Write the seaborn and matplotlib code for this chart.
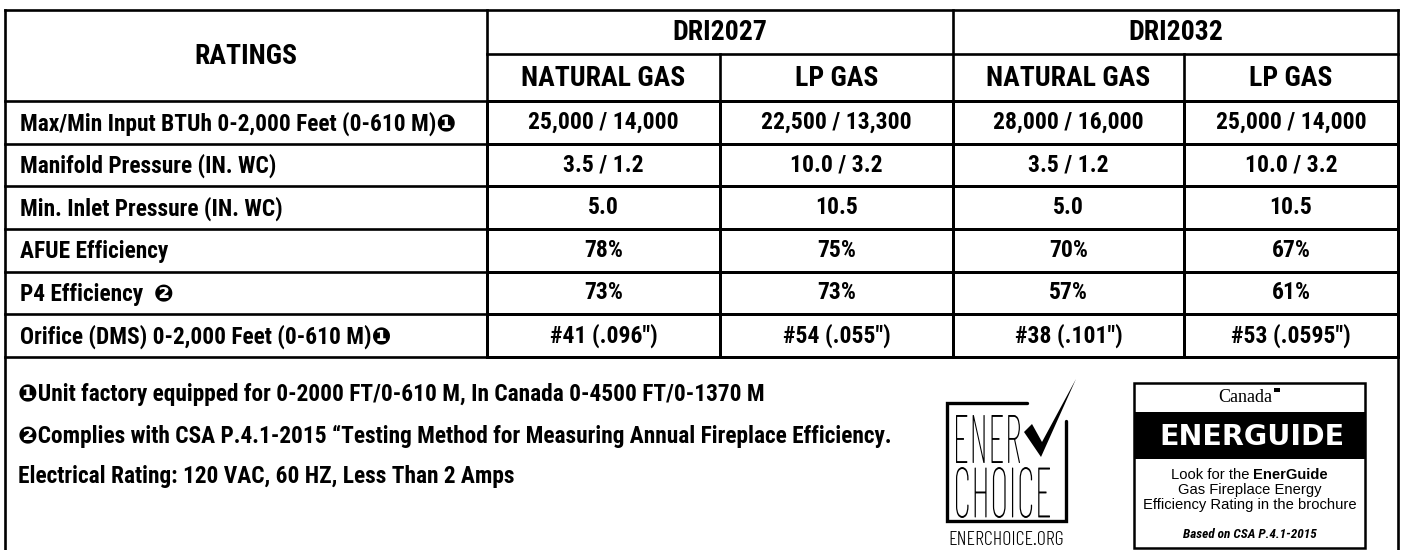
import numpy as np
import matplotlib
matplotlib.use("Agg")
import matplotlib.pyplot as plt
from matplotlib import font_manager
from matplotlib.colors import ListedColormap
from matplotlib.textpath import TextPath
from matplotlib.patches import PathPatch, Rectangle, Polygon
from matplotlib.font_manager import FontProperties
from matplotlib.transforms import Affine2D
import seaborn as sns

# ---------------- data ----------------
row_labels = [
    "Max/Min Input BTUh 0-2,000 Feet (0-610 M)\u2776",
    "Manifold Pressure (IN. WC)",
    "Min. Inlet Pressure (IN. WC)",
    "AFUE Efficiency",
    "P4 Efficiency  \u2777",
    "Orifice (DMS) 0-2,000 Feet (0-610 M)\u2776",
]
models = ["DRI2027", "DRI2032"]
fuels = ["NATURAL GAS", "LP GAS"]
header_title = "RATINGS"
dri2027_ng = ["25,000 / 14,000", "3.5 / 1.2", "5.0", "78%", "73%", '#41 (.096")']
dri2027_lp = ["22,500 / 13,300", "10.0 / 3.2", "10.5", "75%", "73%", '#54 (.055")']
dri2032_ng = ["28,000 / 16,000", "3.5 / 1.2", "5.0", "70%", "57%", '#38 (.101")']
dri2032_lp = ["25,000 / 14,000", "10.0 / 3.2", "10.5", "67%", "61%", '#53 (.0595")']
footnotes = [
    "\u2776Unit factory equipped for 0-2000 FT/0-610 M, In Canada 0-4500 FT/0-1370 M",
    "\u2777Complies with CSA P.4.1-2015 \u201cTesting Method for Measuring Annual Fireplace Efficiency.",
    "Electrical Rating: 120 VAC, 60 HZ, Less Than 2 Amps",
]
enerchoice_words = ["ENER", "CHOICE", "ENERCHOICE.ORG"]
energuide_title = "ENERGUIDE"
energuide_lines = ["Look for the ", "EnerGuide", "Gas Fireplace Energy",
                   "Efficiency Rating in the brochure", "Based on CSA P.4.1-2015"]

# ---------------- style ----------------
sns.set_theme(style="white")
installed = {f.name for f in font_manager.fontManager.ttflist}

def pick(cands, default="DejaVu Sans"):
    for c in cands:
        if c in installed:
            return c
    return default

COND = pick(["Roboto Condensed", "Archivo Narrow", "PT Sans Narrow", "Liberation Sans Narrow",
             "Asap Condensed", "Barlow Condensed"])
THIN = pick(["Barlow Condensed", "Roboto Condensed", "Archivo Narrow"])
SANS = pick(["Liberation Sans", "Arimo", "DejaVu Sans"])
SERIF = pick(["Liberation Serif", "Tinos", "DejaVu Serif"])
FAM = [COND, "DejaVu Sans"]
plt.rcParams["font.family"] = FAM

W, H = 1403, 550
fig = plt.figure(figsize=(W / 100, H / 100), dpi=100)
fig.patch.set_facecolor("white")

# layout (pixel coords)
L, R, T = 5, 1398, 10
col_x = [487, 720, 953, 1184, 1398]
hdr_mid, hdr_bot = 54, 101
row_h = (357 - 101) / 6
tbl_bot = hdr_bot + 6 * row_h
LW = 1.9
BODY = 16.8
DATA = 17
HEAD = 20

def fig_rect(x0, y0, x1, y1):
    return [x0 / W, 1 - y1 / H, (x1 - x0) / W, (y1 - y0) / H]

# ---------------- data cells via seaborn heatmaps ----------------
white = ListedColormap(["white"])
series = [dri2027_ng, dri2027_lp, dri2032_ng, dri2032_lp]
for i, vals in enumerate(series):
    axh = fig.add_axes(fig_rect(col_x[i], hdr_bot, col_x[i + 1], tbl_bot))
    annot = np.array(vals, dtype=object).reshape(-1, 1)
    sns.heatmap(np.zeros((len(vals), 1)), ax=axh, cmap=white, cbar=False,
                annot=annot, fmt="", linewidths=LW, linecolor="black",
                xticklabels=False, yticklabels=False,
                annot_kws=dict(fontsize=DATA, fontweight="bold", family=FAM))
    axh.collections[0].set_clip_on(False)
    for t in axh.texts:
        t.set_color("black")
    axh.set_axis_off()

# ---------------- overlay ----------------
ax = fig.add_axes([0, 0, 1, 1])
ax.set_xlim(0, W)
ax.set_ylim(H, 0)
ax.set_axis_off()
ax.patch.set_alpha(0)

k = dict(color="black", lw=LW, solid_capstyle="projecting")
ax.plot([L, R], [T, T], **k)
ax.plot([L, L], [T, H + 5], **k)
ax.plot([R, R], [T, H + 5], **k)
ax.plot([col_x[0], R], [hdr_mid, hdr_mid], **k)
for j in range(7):
    y = hdr_bot + j * row_h
    ax.plot([L, R], [y, y], **k)
ax.plot([col_x[0]] * 2, [T, tbl_bot], **k)
ax.plot([col_x[2]] * 2, [T, tbl_bot], **k)
ax.plot([col_x[1]] * 2, [hdr_mid, tbl_bot], **k)
ax.plot([col_x[3]] * 2, [hdr_mid, tbl_bot], **k)

hk = dict(fontsize=HEAD, fontweight="bold", ha="center", va="center", color="black")
ax.text((L + col_x[0]) / 2, (T + hdr_bot) / 2 + 1, header_title, **hk)
ax.text((col_x[0] + col_x[2]) / 2, (T + hdr_mid) / 2 + 1, models[0], **hk)
ax.text((col_x[2] + col_x[4]) / 2, (T + hdr_mid) / 2 + 1, models[1], **hk)
for i in range(4):
    ax.text((col_x[i] + col_x[i + 1]) / 2, (hdr_mid + hdr_bot) / 2 + 1, fuels[i % 2], **hk)

for j, lab in enumerate(row_labels):
    ax.text(20, hdr_bot + (j + 0.5) * row_h + 1, lab, fontsize=BODY, fontweight="bold",
            ha="left", va="center", color="black")

foot_y = [395, 436, 477]
for y, s in zip(foot_y, footnotes):
    ax.text(18, y, s, fontsize=BODY, fontweight="bold", ha="left", va="center", color="black")

# ---------------- logos ----------------
def path_text(s, x0, ytop, width, height, prop, color="black"):
    tp = TextPath((0, 0), s, size=100, prop=prop)
    bb = tp.get_extents()
    tr = (Affine2D().translate(-bb.x0, -bb.y0)
          .scale(width / bb.width, -height / bb.height)
          .translate(x0, ytop + height))
    ax.add_patch(PathPatch(tr.transform_path(tp), facecolor=color, lw=0))

thin = FontProperties(family=THIN, weight=250)
# EnerChoice box with gap for the check
ax.plot([1027, 947, 947, 1066, 1066], [403, 403, 521, 521, 421], color="black", lw=2.4,
        solid_joinstyle="miter")
path_text(enerchoice_words[0], 956, 415, 64, 48, thin)
path_text(enerchoice_words[1], 956, 467, 94, 51, thin)
ax.text(1006.5, 540, enerchoice_words[2], fontsize=14.5, family=THIN, fontweight=300,
        ha="center", va="center", color="black")
ax.add_patch(Polygon([(1024, 432), (1032, 424), (1042, 442), (1076, 379),
                      (1041, 457)], closed=True, facecolor="black", lw=0))

# EnerGuide box
gx0, gx1, gy0, gy1 = 1134, 1365, 383, 548
ax.add_patch(Rectangle((gx0, gy0), gx1 - gx0, gy1 - gy0, facecolor="white",
                       edgecolor="black", lw=1.8))
ax.add_patch(Rectangle((gx0, 412), gx1 - gx0, 47, facecolor="black", lw=0))
gc = (gx0 + gx1) / 2
ax.text(gc - 4, 398, "Canada", fontsize=13, family=SERIF, ha="center",
        va="center", color="black")
ax.add_patch(Rectangle((gc + 24, 388), 6, 4, facecolor="black", lw=0))
ax.text(1252, 437, energuide_title, fontsize=20.5, family="DejaVu Sans", fontweight="bold",
        ha="center", va="center", color="white")

GS = 10.6
ta = ax.text(0, 475, energuide_lines[0], fontsize=GS, family=SANS,
             ha="left", va="center", color="black")
tb = ax.text(0, 475, energuide_lines[1], fontsize=GS, family=SANS, fontweight="bold",
             ha="left", va="center", color="black")
fig.canvas.draw()
rend = fig.canvas.get_renderer()
wa = ta.get_window_extent(rend).width
wb = tb.get_window_extent(rend).width
x_start = gc - (wa + wb) / 2
ta.set_x(x_start)
tb.set_x(x_start + wa)
ax.text(gc, 490, energuide_lines[2], fontsize=GS, family=SANS,
        ha="center", va="center", color="black")
ax.text(gc, 505, energuide_lines[3], fontsize=GS, family=SANS,
        ha="center", va="center", color="black")
ax.text(gc, 535, energuide_lines[4], fontsize=9.5, family=FAM, fontweight="bold",
        style="italic", ha="center", va="center", color="black")

fig.savefig("out.png", dpi=100, facecolor="white")
